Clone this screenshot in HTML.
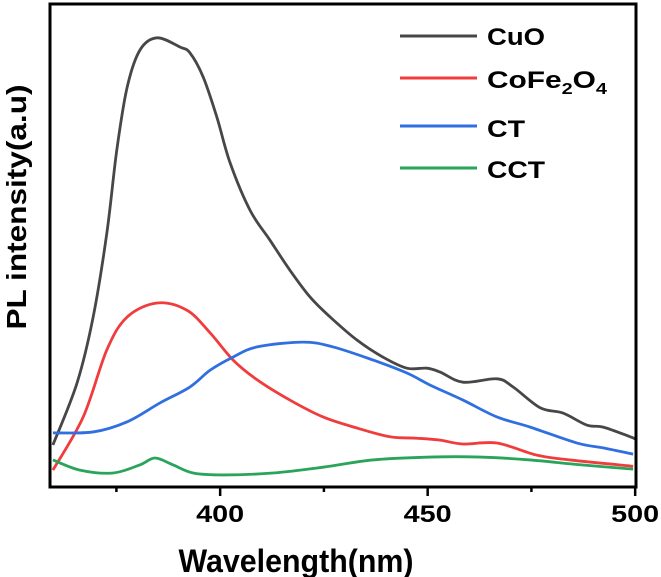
<!DOCTYPE html>
<html><head><meta charset="utf-8"><style>
html,body{margin:0;padding:0;background:#fff;}
svg{display:block;font-family:"Liberation Sans",Arial,sans-serif;font-weight:bold;}
</style></head><body>
<svg id="chart" width="661" height="577" viewBox="0 0 661 577"></svg>
<script>
const cuoNm=[359.7,365.5,369.4,372.7,375.1,377.6,380.7,384.8,390.3,392.7,395.9,399.2,402.4,407.2,412.0,416.8,421.7,426.5,433.0,439.2,445.0,449.8,453.0,458.5,466.7,470.6,477.1,482.6,488.4,492.3,498.8,500.2];
const cuoVal=[8.7,21.5,35.2,52.6,69.8,82.8,90.5,93.0,91.1,89.9,84.9,76.6,67.1,57.3,51.1,44.9,39.3,35.2,30.4,26.9,24.6,24.6,23.8,21.7,22.4,20.7,16.4,15.3,12.8,12.4,10.4,9.9];
const cfoNm=[359.7,367.0,372.7,377.6,384.8,392.0,397.6,403.1,408.9,416.8,424.8,433.0,440.9,447.4,453.0,458.5,466.7,476.3,484.3,499.5];
const cfoVal=[3.5,14.5,28.4,35.2,38.1,36.6,31.9,26.3,22.2,18.0,14.5,12.2,10.4,10.1,9.7,8.9,9.1,6.6,5.6,4.3];
const ctNm=[359.7,369.4,377.6,385.5,392.7,397.6,403.1,408.9,420.0,427.2,436.8,445.0,450.6,458.5,466.7,474.7,486.0,492.3,499.5];
const ctVal=[11.2,11.4,13.5,17.4,20.7,24.2,26.9,29.0,30.0,29.0,26.3,23.6,21.1,18.0,14.5,12.4,9.1,8.1,6.8];
const cctNm=[359.7,366.2,374.2,380.7,384.3,388.6,393.5,400.7,412.7,424.8,436.8,450.6,462.6,474.7,486.7,499.5];
const cctVal=[5.6,3.5,2.9,4.6,6.0,4.6,2.9,2.5,2.9,4.1,5.6,6.2,6.2,5.6,4.6,3.7];
const xTicks=[400,450,500];
const xMinor=[375,425,475];
const seriesNames=["CuO","CoFe2O4","CT","CCT"];

const L=50,R=636,T=4,B=487,X0=359,X1=500.2,Y0=0,Y1=100;
const sx=v=>L+(v-X0)/(X1-X0)*(R-L);
const sy=v=>B-(v-Y0)/(Y1-Y0)*(B-T);
const svg=document.getElementById('chart');
const NS='http://www.w3.org/2000/svg';
function mk(tag,attrs,parent){const e=document.createElementNS(NS,tag);for(const k in attrs)e.setAttribute(k,attrs[k]);(parent||svg).appendChild(e);return e;}
function smooth(xs,ys){const p=xs.map((x,i)=>[sx(x),sy(ys[i])]);let d='M'+p[0][0]+','+p[0][1];
for(let i=0;i<p.length-1;i++){const p0=p[i-1]||p[i],p1=p[i],p2=p[i+1],p3=p[i+2]||p2;
const c1=[p1[0]+(p2[0]-p0[0])/6,p1[1]+(p2[1]-p0[1])/6],c2=[p2[0]-(p3[0]-p1[0])/6,p2[1]-(p3[1]-p1[1])/6];
d+=' C'+c1[0]+','+c1[1]+' '+c2[0]+','+c2[1]+' '+p2[0]+','+p2[1];}return d;}

const series=[[cuoNm,cuoVal,'#474747','cuo-line'],[cfoNm,cfoVal,'#f03c3c','cofe2o4-line'],[ctNm,ctVal,'#2f6fe0','ct-line'],[cctNm,cctVal,'#2aa45a','cct-line']];
series.forEach(s=>{const e=mk('path',{d:smooth(s[0],s[1]),fill:'none',stroke:s[2],'stroke-width':2.8,'stroke-linejoin':'round'});

});

const frame=mk('rect',{x:L,y:T,width:R-L,height:B-T,fill:'none',stroke:'#000','stroke-width':3});


xTicks.forEach(t=>{const ln=mk('line',{x1:sx(t),x2:sx(t),y1:B,y2:B+9,stroke:'#000','stroke-width':2.5});


const tx=mk('text',{x:sx(t),y:522,'text-anchor':'middle','font-size':24,textLength:48,lengthAdjust:'spacingAndGlyphs'});tx.textContent=t;

});
xMinor.forEach(t=>{const ln=mk('line',{x1:sx(t),x2:sx(t),y1:B,y2:B+5,stroke:'#000','stroke-width':2.5});

});
const xt=mk('text',{x:296,y:572,'text-anchor':'middle','font-size':32,textLength:235,lengthAdjust:'spacingAndGlyphs'});xt.textContent='Wavelength(nm)';


const yt=mk('text',{x:0,y:0,'text-anchor':'middle','font-size':28,textLength:245,lengthAdjust:'spacingAndGlyphs',transform:'translate(26,207) rotate(-90)'});yt.textContent='PL intensity(a.u)';



const legY=[36,78,126,168],legBase=[45,88,137,178],legW=[58,120,38,58],legC=['#474747','#f03c3c','#2f6fe0','#2aa45a'];
seriesNames.forEach((n,i)=>{const g=mk('g',{});


mk('line',{x1:400,x2:477,y1:legY[i],y2:legY[i],stroke:legC[i],'stroke-width':3},g);
const t=mk('text',{x:487,y:legBase[i],'font-size':24,textLength:legW[i],lengthAdjust:'spacingAndGlyphs'},g);
if(n==='CoFe2O4'){t.innerHTML='CoFe<tspan dy="6" font-size="16">2</tspan><tspan dy="-6">O</tspan><tspan dy="6" font-size="16">4</tspan>';}else t.textContent=n;});
</script>
</body></html>
